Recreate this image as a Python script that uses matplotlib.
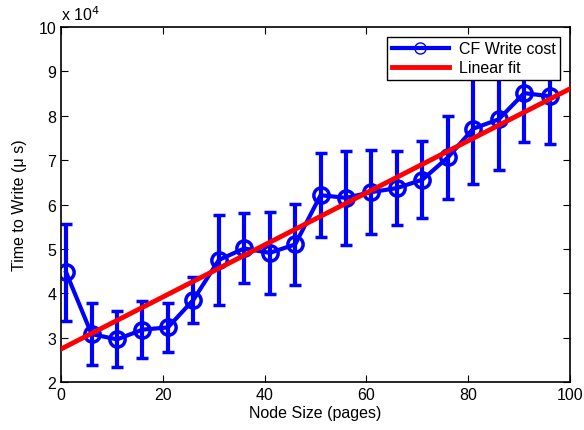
import numpy as np
import matplotlib
matplotlib.use("Agg")
import matplotlib.pyplot as plt
from matplotlib.ticker import FuncFormatter
from matplotlib.lines import Line2D

plt.rcParams['font.family'] = ['Liberation Sans', 'DejaVu Sans']

# node sizes (pages) and write cost (microseconds)
node_size = [1, 6, 11, 16, 21, 26, 31, 36, 41, 46, 51, 56, 61, 66, 71, 76, 81, 86, 91, 96]
write_cost = [44700, 30800, 29600, 31800, 32300, 38500, 47500, 50100, 49100, 51000,
              62100, 61500, 62800, 63700, 65600, 70600, 77100, 79200, 85100, 84400]
write_err = [10900, 7000, 6300, 6500, 5500, 5100, 10200, 7900, 9300, 9200,
             9400, 10600, 9500, 8400, 8700, 9300, 12400, 11500, 11000, 10700]

x = np.array(node_size)
y = np.array(write_cost)
coef = np.polyfit(x, y, 1)
xfit = np.array([0, 100])

fs = 11.5
fig = plt.figure(figsize=(5.84, 4.31), dpi=100)
ax = fig.add_axes([0.1045, 0.1114, 0.8715, 0.8236])

ax.errorbar(x, y, yerr=write_err, color='#0000ff', lw=3, marker='o', ms=11,
            mfc='none', mec='#0000ff', mew=2.5, capsize=4, capthick=3,
            elinewidth=3, zorder=2)
fit_line, = ax.plot(xfit, np.polyval(coef, xfit), color='#ff0000', lw=3.5, zorder=3)

ax.set_xlim(0, 100)
ax.set_ylim(20000, 100000)
ax.set_xticks(range(0, 101, 20))
ax.set_yticks(range(20000, 100001, 10000))
ax.yaxis.set_major_formatter(FuncFormatter(lambda v, p: '%d' % round(v / 1e4)))
ax.tick_params(direction='in', top=True, right=True, length=5, width=0.8, labelsize=fs)
for s in ax.spines.values():
    s.set_linewidth(1.2)

ax.set_xlabel('Node Size (pages)', fontsize=fs, labelpad=2)
ax.set_ylabel('Time to Write (\u03bc s)', fontsize=fs, labelpad=8)
ax.text(0.0, 1.012, 'x 10$^4$', transform=ax.transAxes, fontsize=fs, ha='left', va='bottom')

cf_handle = Line2D([], [], color='#0000ff', lw=3, marker='o', ms=8, mfc='none',
                   mec='#0000ff', mew=1)
leg = ax.legend([cf_handle, fit_line], ['CF Write cost', 'Linear fit'],
                loc='upper right', fontsize=fs, fancybox=False, edgecolor='black',
                framealpha=1, borderaxespad=0.6, handlelength=3.6, borderpad=0.3,
                labelspacing=0.25, handletextpad=0.6)
leg.get_frame().set_linewidth(1.0)

fig.savefig('out.png', dpi=100)
